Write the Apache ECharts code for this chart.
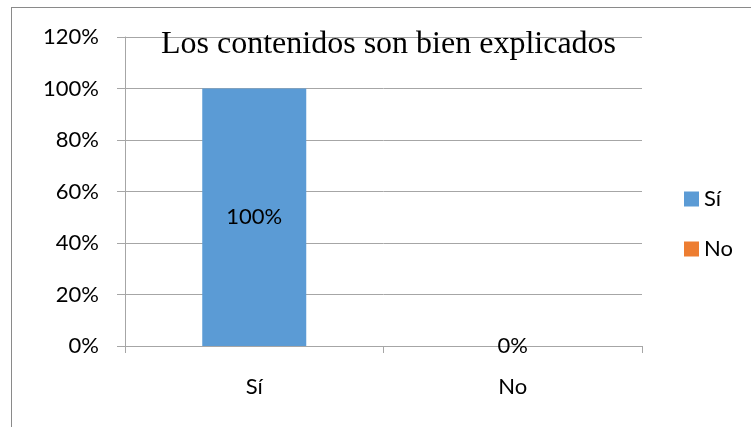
<!DOCTYPE html>
<html>
<head>
<meta charset="utf-8">
<script src="https://cdn.jsdelivr.net/npm/echarts@6/dist/echarts.min.js"></script>
<style>
  html, body { margin: 0; padding: 0; background: #fff; }
  #wrap { position: absolute; left: 0; top: 0; width: 751px; height: 427px; overflow: hidden; }
  #frame { position: absolute; left: 11px; top: 7px; width: 800px; height: 500px; border-left: 1.5px solid #8a8a8a; border-top: 1.5px solid #8a8a8a; }
  #chart { position: absolute; left: 0; top: 0; width: 751px; height: 427px; }
</style>
</head>
<body>
<div id="wrap">
  <div id="frame"></div>
  <div id="chart"></div>
</div>
<script>
const titleText = 'Los contenidos son bien explicados';
const categories = ['Sí', 'No'];
const seriesNames = ['Sí', 'No'];
const siValues = [100, null];
const noValues = [null, 0];
const yTicks = { min: 0, max: 120, interval: 20 };
const colors = ['#5B9BD5', '#ED7D31'];

const labelFont = 'Lato, "Open Sans", sans-serif';
const chart = echarts.init(document.getElementById('chart'), null, { renderer: 'canvas' });
chart.setOption({
  backgroundColor: 'transparent',
  animation: false,
  color: colors,
  title: {
    text: titleText,
    left: 156,
    top: 24,
    textStyle: { fontFamily: '"Liberation Serif", "Times New Roman", serif', fontSize: 32, fontWeight: 'normal', color: '#000' }
  },
  legend: {
    orient: 'vertical',
    left: 679,
    top: 183,
    itemWidth: 15,
    itemHeight: 15,
    itemGap: 28,
    icon: 'rect',
    data: seriesNames,
    textStyle: { fontFamily: labelFont, fontSize: 22, color: '#000' }
  },
  grid: { left: 125, right: 109, top: 37, bottom: 81, containLabel: false },
  xAxis: {
    type: 'category',
    data: categories,
    axisLine: { show: true, lineStyle: { color: '#a6a6a6', width: 1 } },
    axisTick: { show: true, length: 7, lineStyle: { color: '#a6a6a6' } },
    axisLabel: { margin: 30, fontFamily: labelFont, fontSize: 22, color: '#000' }
  },
  yAxis: {
    type: 'value',
    min: yTicks.min, max: yTicks.max, interval: yTicks.interval,
    axisLine: { show: true, lineStyle: { color: '#a6a6a6', width: 1 } },
    axisTick: { show: true, length: 8, lineStyle: { color: '#a6a6a6' } },
    axisLabel: { margin: 26, formatter: '{value}%', fontFamily: labelFont, fontSize: 22, color: '#000' },
    splitLine: { show: true, lineStyle: { color: '#a6a6a6', width: 1 } }
  },
  series: [
    {
      name: seriesNames[0], type: 'bar', data: siValues, barWidth: 104, barGap: '-100%',
      label: { show: true, position: 'inside', formatter: '{c}%', fontFamily: labelFont, fontSize: 22, color: '#000' }
    },
    {
      name: seriesNames[1], type: 'bar', data: noValues, barWidth: 104,
      label: { show: true, position: 'inside', formatter: '{c}%', fontFamily: labelFont, fontSize: 22, color: '#000' }
    }
  ]
});
</script>
</body>
</html>
